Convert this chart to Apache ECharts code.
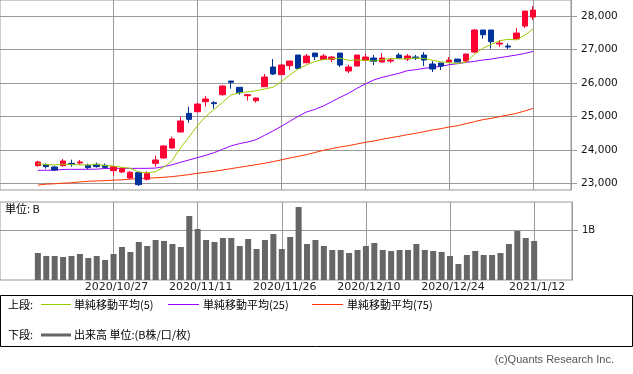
<!DOCTYPE html>
<html><head><meta charset="utf-8">
<script src="https://cdn.jsdelivr.net/npm/echarts@6/dist/echarts.min.js"></script>
<style>html,body{margin:0;padding:0;background:#fff}#c{width:633px;height:374px}</style>
</head><body><div id="c"></div>
<script>
const dates = ['2020/10/14','2020/10/15','2020/10/16','2020/10/19','2020/10/20','2020/10/21','2020/10/22','2020/10/23','2020/10/26','2020/10/27',
'2020/10/28','2020/10/29','2020/10/30','2020/11/2','2020/11/4','2020/11/5','2020/11/6','2020/11/9','2020/11/10','2020/11/11',
'2020/11/12','2020/11/13','2020/11/16','2020/11/17','2020/11/18','2020/11/19','2020/11/20','2020/11/24','2020/11/25','2020/11/26',
'2020/11/27','2020/11/30','2020/12/1','2020/12/2','2020/12/3','2020/12/4','2020/12/7','2020/12/8','2020/12/9','2020/12/10',
'2020/12/11','2020/12/14','2020/12/15','2020/12/16','2020/12/17','2020/12/18','2020/12/21','2020/12/22','2020/12/23','2020/12/24',
'2020/12/25','2020/12/28','2020/12/29','2020/12/30','2021/1/4','2021/1/5','2021/1/6','2021/1/7','2021/1/8','2021/1/12'];
const tickDates = ['2020/10/27','2020/11/11','2020/11/26','2020/12/10','2020/12/24','2021/1/12'];
const opens = [23528,23558,23488,23528,23598,23607,23538,23568,23538,23378,
23339,23159,23319,23120,23598,23757,24056,24534,25092,25141,
25440,25410,25649,26058,25869,25619,25470,25888,26476,26247,
26516,26835,26605,26894,26705,26705,26894,26357,26506,26675,
26745,26625,26655,26835,26715,26775,26835,26566,26596,26625,
26715,26655,26924,27582,27582,27163,27104,27313,27701,27970];
const closes = [23637,23498,23398,23667,23568,23637,23468,23498,23478,23498,
23448,23329,22960,23299,23697,24116,24325,24863,24912,25370,
25520,25380,25908,26018,25709,25649,25550,26177,26267,26536,
26655,26436,26805,26785,26805,26775,26536,26476,26835,26775,
26645,26745,26685,26745,26805,26745,26685,26416,26506,26685,
26625,26865,27582,27442,27233,27193,27074,27492,28149,28179];
const lows = [23498,23438,23378,23498,23498,23548,23428,23468,23448,23229,
23309,23130,22920,23080,23498,23737,24026,24534,24813,25122,
25291,25231,25619,25829,25649,25470,25410,25888,26237,26247,
26386,26406,26586,26685,26705,26625,26476,26297,26506,26645,
26536,26625,26596,26745,26655,26685,26506,26327,26386,26625,
26625,26625,26894,27323,27024,27074,27014,27313,27641,27880];
const highs = [23677,23598,23528,23727,23707,23697,23588,23618,23588,23528,
23478,23369,23349,23359,23827,24135,24394,24992,25291,25390,
25610,25460,25928,26058,25869,25669,25570,26267,26715,26566,
26655,26835,26865,26894,26865,26805,26894,26536,26835,26865,
26835,26894,26745,26894,26865,26835,26924,26655,26596,26775,
26715,26865,27612,27582,27582,27283,27183,27641,28149,28299];
const ma5 = [23590,23560,23550,23575,23560,23554,23548,23568,23530,23516,
23478,23450,23343,23310,23347,23480,23679,24060,24383,24717,
24998,25209,25418,25639,25707,25733,25767,25821,25870,26036,
26237,26414,26540,26643,26697,26721,26741,26675,26685,26679,
26653,26695,26737,26719,26725,26745,26733,26679,26631,26607,
26583,26619,26853,27040,27149,27263,27305,27287,27428,27617];
const ma25 = [23390,23390,23392,23415,23418,23418,23420,23422,23445,23445,
23446,23446,23447,23448,23455,23498,23555,23628,23697,23767,
23837,23916,24016,24116,24185,24235,24305,24434,24564,24703,
24853,25002,25132,25210,25311,25440,25570,25689,25839,25968,
26088,26167,26227,26287,26366,26396,26436,26466,26496,26546,
26576,26615,26645,26685,26715,26755,26795,26835,26884,26944];
const ma75 = [22945,22975,22985,23005,23015,23040,23060,23070,23080,23095,
23105,23125,23140,23150,23165,23180,23200,23229,23259,23299,
23329,23359,23398,23438,23478,23518,23558,23598,23647,23700,
23757,23807,23857,23920,23986,24036,24086,24125,24175,24225,
24265,24315,24364,24404,24454,24494,24544,24594,24634,24683,
24723,24783,24843,24902,24942,24992,25042,25092,25161,25241];
const volumes = [0.54,0.48,0.48,0.46,0.48,0.52,0.44,0.48,0.40,0.52,
0.66,0.56,0.76,0.68,0.80,0.78,0.72,0.66,1.28,1.02,
0.80,0.76,0.84,0.84,0.68,0.82,0.62,0.80,0.92,0.62,
0.86,1.46,0.72,0.80,0.68,0.60,0.60,0.54,0.60,0.68,
0.74,0.60,0.58,0.60,0.60,0.72,0.60,0.58,0.56,0.48,
0.32,0.50,0.58,0.50,0.50,0.54,0.72,0.98,0.84,0.78];
const priceTicks = [23000,24000,25000,26000,27000,28000];
const volTicks = [1];

const PAD = 4;
const padL = Array.from({length: PAD}, (_, i) => 'L' + i);
const padR = Array.from({length: PAD}, (_, i) => 'R' + i);
const cats = padL.concat(dates, padR);
const blank = Array(PAD).fill('-');
const pad = arr => blank.concat(arr, blank);
const candle = dates.map((d, i) => [opens[i], closes[i], lows[i], highs[i]]);
const isTick = (idx, val) => tickDates.indexOf(val) >= 0;

const GRID = '#999999';
const chart = echarts.init(document.getElementById('c'), null, {renderer: 'canvas'});
const xCommon = {
  type: 'category', data: cats, boundaryGap: true,
  axisLine: {show: false}, axisTick: {show: false},
  splitLine: {show: true, interval: isTick, alignWithLabel: true, lineStyle: {color: GRID, width: 1}}
};
chart.setOption({
  animation: false,
  grid: [
    {left: -1, right: 62, top: 0, height: 190, show: true, borderColor: GRID, borderWidth: 1, backgroundColor: 'transparent'},
    {left: -1, right: 61, top: 202, height: 78, show: true, borderColor: GRID, borderWidth: 1, backgroundColor: 'transparent'}
  ],
  xAxis: [
    Object.assign({gridIndex: 0, axisLabel: {show: false}}, xCommon),
    Object.assign({gridIndex: 1, axisLabel: {show: true, interval: isTick, margin: 2, color: '#222',
      padding: [0, 0, 0, 6], fontFamily: 'DejaVu Sans', fontSize: 11}}, xCommon)
  ],
  yAxis: [
    {gridIndex: 0, type: 'value', position: 'right', min: 22800, max: 28480, splitNumber: 6,
      axisLine: {show: true, lineStyle: {color: GRID}},
      axisTick: {show: true, length: 6, customValues: priceTicks, lineStyle: {color: GRID}},
      axisLabel: {customValues: priceTicks, margin: 10, color: '#111', fontFamily: 'DejaVu Sans', fontSize: 10.5,
        formatter: v => v.toLocaleString('en-US')},
      splitLine: {show: true, lineStyle: {color: GRID}}},
    {gridIndex: 1, type: 'value', position: 'right', min: 0, max: 1.56,
      axisLine: {show: true, lineStyle: {color: GRID}},
      axisTick: {show: true, length: 6, customValues: volTicks, lineStyle: {color: GRID}},
      axisLabel: {customValues: volTicks, margin: 10, color: '#111', fontFamily: 'DejaVu Sans', fontSize: 10,
        formatter: v => v + 'B'},
      splitLine: {show: true, lineStyle: {color: GRID}}}
  ],
  series: [
    {type: 'line', name: '単純移動平均(75)', xAxisIndex: 0, yAxisIndex: 0, data: pad(ma75), showSymbol: false,
      lineStyle: {color: '#ff3300', width: 1}, z: 3},
    {type: 'line', name: '単純移動平均(25)', xAxisIndex: 0, yAxisIndex: 0, data: pad(ma25), showSymbol: false,
      lineStyle: {color: '#9900ff', width: 1}, z: 3},
    {type: 'candlestick', xAxisIndex: 0, yAxisIndex: 0, data: pad(candle), barWidth: 6,
      itemStyle: {color: '#ff0033', color0: '#003399', borderColor: '#ff0033', borderColor0: '#003399', borderWidth: 1}, z: 4},
    {type: 'line', name: '単純移動平均(5)', xAxisIndex: 0, yAxisIndex: 0, data: pad(ma5), showSymbol: false,
      lineStyle: {color: '#99cc00', width: 1}, z: 5},
    {type: 'bar', name: '出来高', xAxisIndex: 1, yAxisIndex: 1, data: pad(volumes), barWidth: 6,
      itemStyle: {color: '#666666'}}
  ],
  graphic: [
    {type: 'text', x: 5, y: 209, style: {text: '単位: B', font: '11px "Noto Sans CJK JP"', fill: '#000', verticalAlign: 'middle'}},
    {type: 'rect', shape: {x: 0.5, y: 295.5, width: 632, height: 51}, style: {fill: 'none', stroke: '#000', lineWidth: 1}},
    {type: 'text', x: 8, y: 305, style: {text: '上段:', font: '11px "Noto Sans CJK JP"', fill: '#000', verticalAlign: 'middle'}},
    {type: 'line', shape: {x1: 41, y1: 304.5, x2: 71, y2: 304.5}, style: {stroke: '#99cc00', lineWidth: 1}},
    {type: 'text', x: 74, y: 305, style: {text: '単純移動平均(5)', font: '11px "Noto Sans CJK JP"', fill: '#000', verticalAlign: 'middle'}},
    {type: 'line', shape: {x1: 168, y1: 304.5, x2: 199, y2: 304.5}, style: {stroke: '#9900ff', lineWidth: 1}},
    {type: 'text', x: 203, y: 305, style: {text: '単純移動平均(25)', font: '11px "Noto Sans CJK JP"', fill: '#000', verticalAlign: 'middle'}},
    {type: 'line', shape: {x1: 312, y1: 304.5, x2: 343, y2: 304.5}, style: {stroke: '#ff3300', lineWidth: 1}},
    {type: 'text', x: 347, y: 305, style: {text: '単純移動平均(75)', font: '11px "Noto Sans CJK JP"', fill: '#000', verticalAlign: 'middle'}},
    {type: 'text', x: 8, y: 335, style: {text: '下段:', font: '11px "Noto Sans CJK JP"', fill: '#000', verticalAlign: 'middle'}},
    {type: 'line', shape: {x1: 41, y1: 335, x2: 71, y2: 335}, style: {stroke: '#666666', lineWidth: 3}},
    {type: 'text', x: 74, y: 335, style: {text: '出来高 単位:(B株/口/枚)', font: '11px "Noto Sans CJK JP"', fill: '#000', verticalAlign: 'middle'}},
    {type: 'text', x: 614, y: 360, style: {text: '(c)Quants Research Inc.', font: '11px "Liberation Sans"', fill: '#555', align: 'right', verticalAlign: 'middle'}}
  ]
});
</script></body></html>
